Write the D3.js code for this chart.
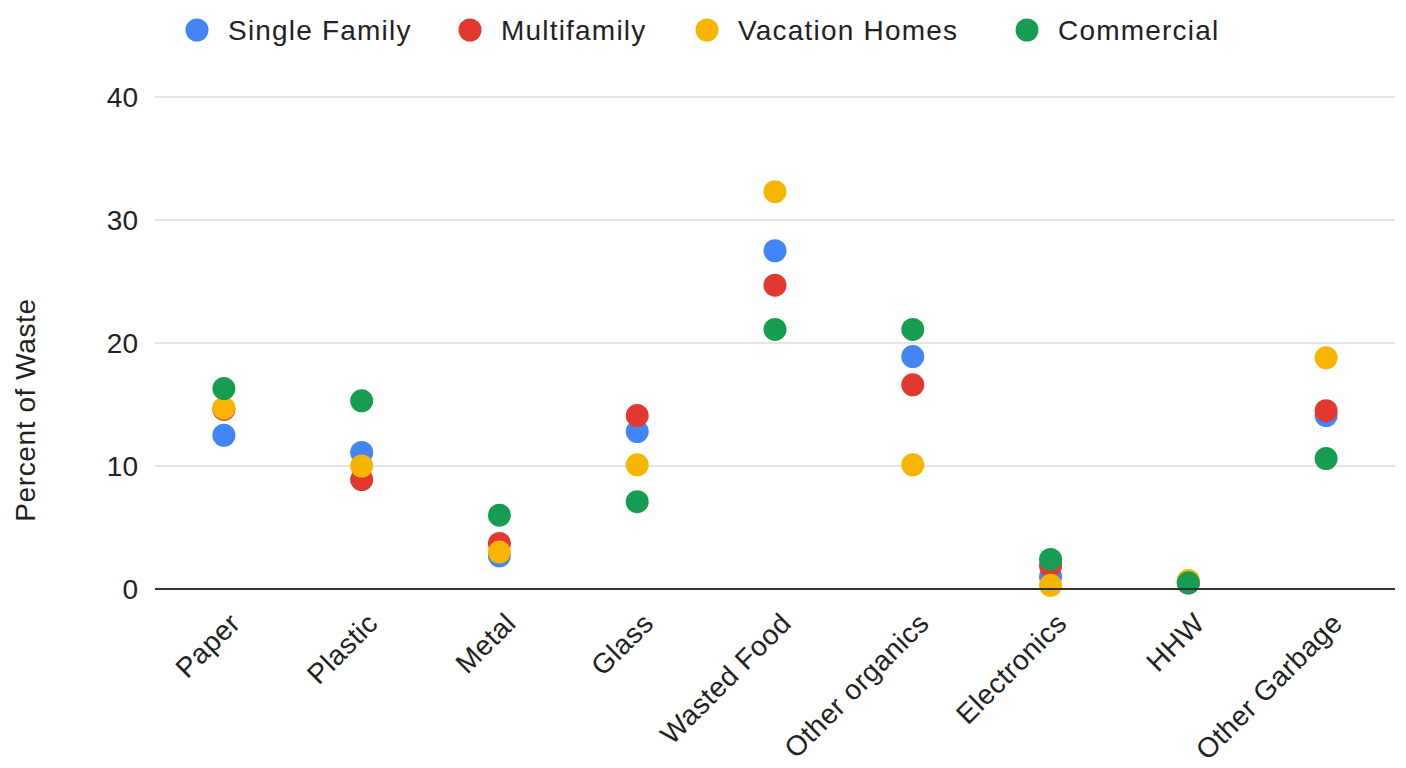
<!DOCTYPE html>
<html>
<head>
<meta charset="utf-8">
<script src="https://cdn.jsdelivr.net/npm/d3@7"></script>
<style>
  body { margin: 0; background: #fff; }
  text { font-family: "Liberation Sans", Arial, sans-serif; }
</style>
</head>
<body>
<div id="chart"></div>
<script>
// data
var categories = ["Paper", "Plastic", "Metal", "Glass", "Wasted Food", "Other organics", "Electronics", "HHW", "Other Garbage"];
var seriesNames = ["Single Family", "Multifamily", "Vacation Homes", "Commercial"];
var seriesColors = ["#4285f4", "#e2382f", "#f8b500", "#179d52"];
var singleFamily = [12.5, 11.1, 2.7, 12.8, 27.5, 18.9, 1.0, 0.5, 14.1];
var multifamily = [14.6, 8.9, 3.7, 14.1, 24.7, 16.6, 1.9, 0.5, 14.5];
var vacationHomes = [14.7, 10.0, 3.0, 10.1, 32.3, 10.1, 0.3, 0.7, 18.8];
var commercial = [16.3, 15.3, 6.0, 7.1, 21.1, 21.1, 2.4, 0.5, 10.6];
var yTicks = [0, 10, 20, 30, 40];

var width = 1406, height = 768;
var margin = {top: 97, right: 11, bottom: 179, left: 155};
var fontSize = "28px";

var svg = d3.select("#chart").append("svg")
  .attr("width", width)
  .attr("height", height);

var x = d3.scalePoint()
  .domain(categories)
  .range([margin.left, width - margin.right])
  .padding(0.5);

var y = d3.scaleLinear()
  .domain([0, 40])
  .range([height - margin.bottom, margin.top]);

// gridlines
svg.append("g")
  .selectAll("line")
  .data(yTicks.filter(function(d) { return d > 0; }))
  .enter().append("line")
  .attr("x1", margin.left)
  .attr("x2", width - margin.right)
  .attr("y1", d => y(d))
  .attr("y2", d => y(d))
  .style("stroke", "#cccccc")
  .style("stroke-width", 1.2);

// y labels
svg.append("g")
  .selectAll("text")
  .data(yTicks)
  .enter().append("text")
  .attr("x", 138)
  .attr("y", d => y(d))
  .attr("dy", "0.36em")
  .attr("text-anchor", "end")
  .style("font-size", fontSize)
  .style("fill", "#222")
  .text(d => d);

// axis title
svg.append("text")
  .attr("transform", "translate(35,410) rotate(-90)")
  .attr("text-anchor", "middle")
  .style("font-size", fontSize)
  .style("letter-spacing", "0.6px")
  .style("fill", "#222")
  .text("Percent of Waste");

// points
var allSeries = [singleFamily, multifamily, vacationHomes, commercial];
allSeries.forEach(function(values, s) {
  svg.append("g")
    .selectAll("circle")
    .data(values)
    .enter().append("circle")
    .attr("cx", (d, i) => x(categories[i]))
    .attr("cy", d => y(d))
    .attr("r", 11.5)
    .style("fill", seriesColors[s]);
});

// baseline
svg.append("line")
  .attr("x1", margin.left)
  .attr("x2", width - margin.right)
  .attr("y1", y(0))
  .attr("y2", y(0))
  .style("stroke", "#333")
  .style("stroke-width", 2.2);

// x labels
svg.append("g")
  .selectAll("text")
  .data(categories)
  .enter().append("text")
  .attr("transform", d => "translate(" + (x(d) + 11) + "," + (y(0) + 29) + ") rotate(-45)")
  .attr("text-anchor", "end")
  .attr("dy", "0.35em")
  .style("font-size", fontSize)
  .style("letter-spacing", "0.5px")
  .style("fill", "#222")
  .text(d => d);

// legend
var legendX = [197, 470, 707, 1027];
var legend = svg.append("g")
  .selectAll("g")
  .data(seriesNames)
  .enter().append("g")
  .attr("transform", (d, i) => "translate(" + legendX[i] + ",30)");

legend.append("circle")
  .attr("r", 11.5)
  .style("fill", (d, i) => seriesColors[i]);

legend.append("text")
  .attr("x", 31)
  .attr("dy", "0.36em")
  .style("font-size", fontSize)
  .style("letter-spacing", "1.2px")
  .style("fill", "#222")
  .text(d => d);
</script>
</body>
</html>
